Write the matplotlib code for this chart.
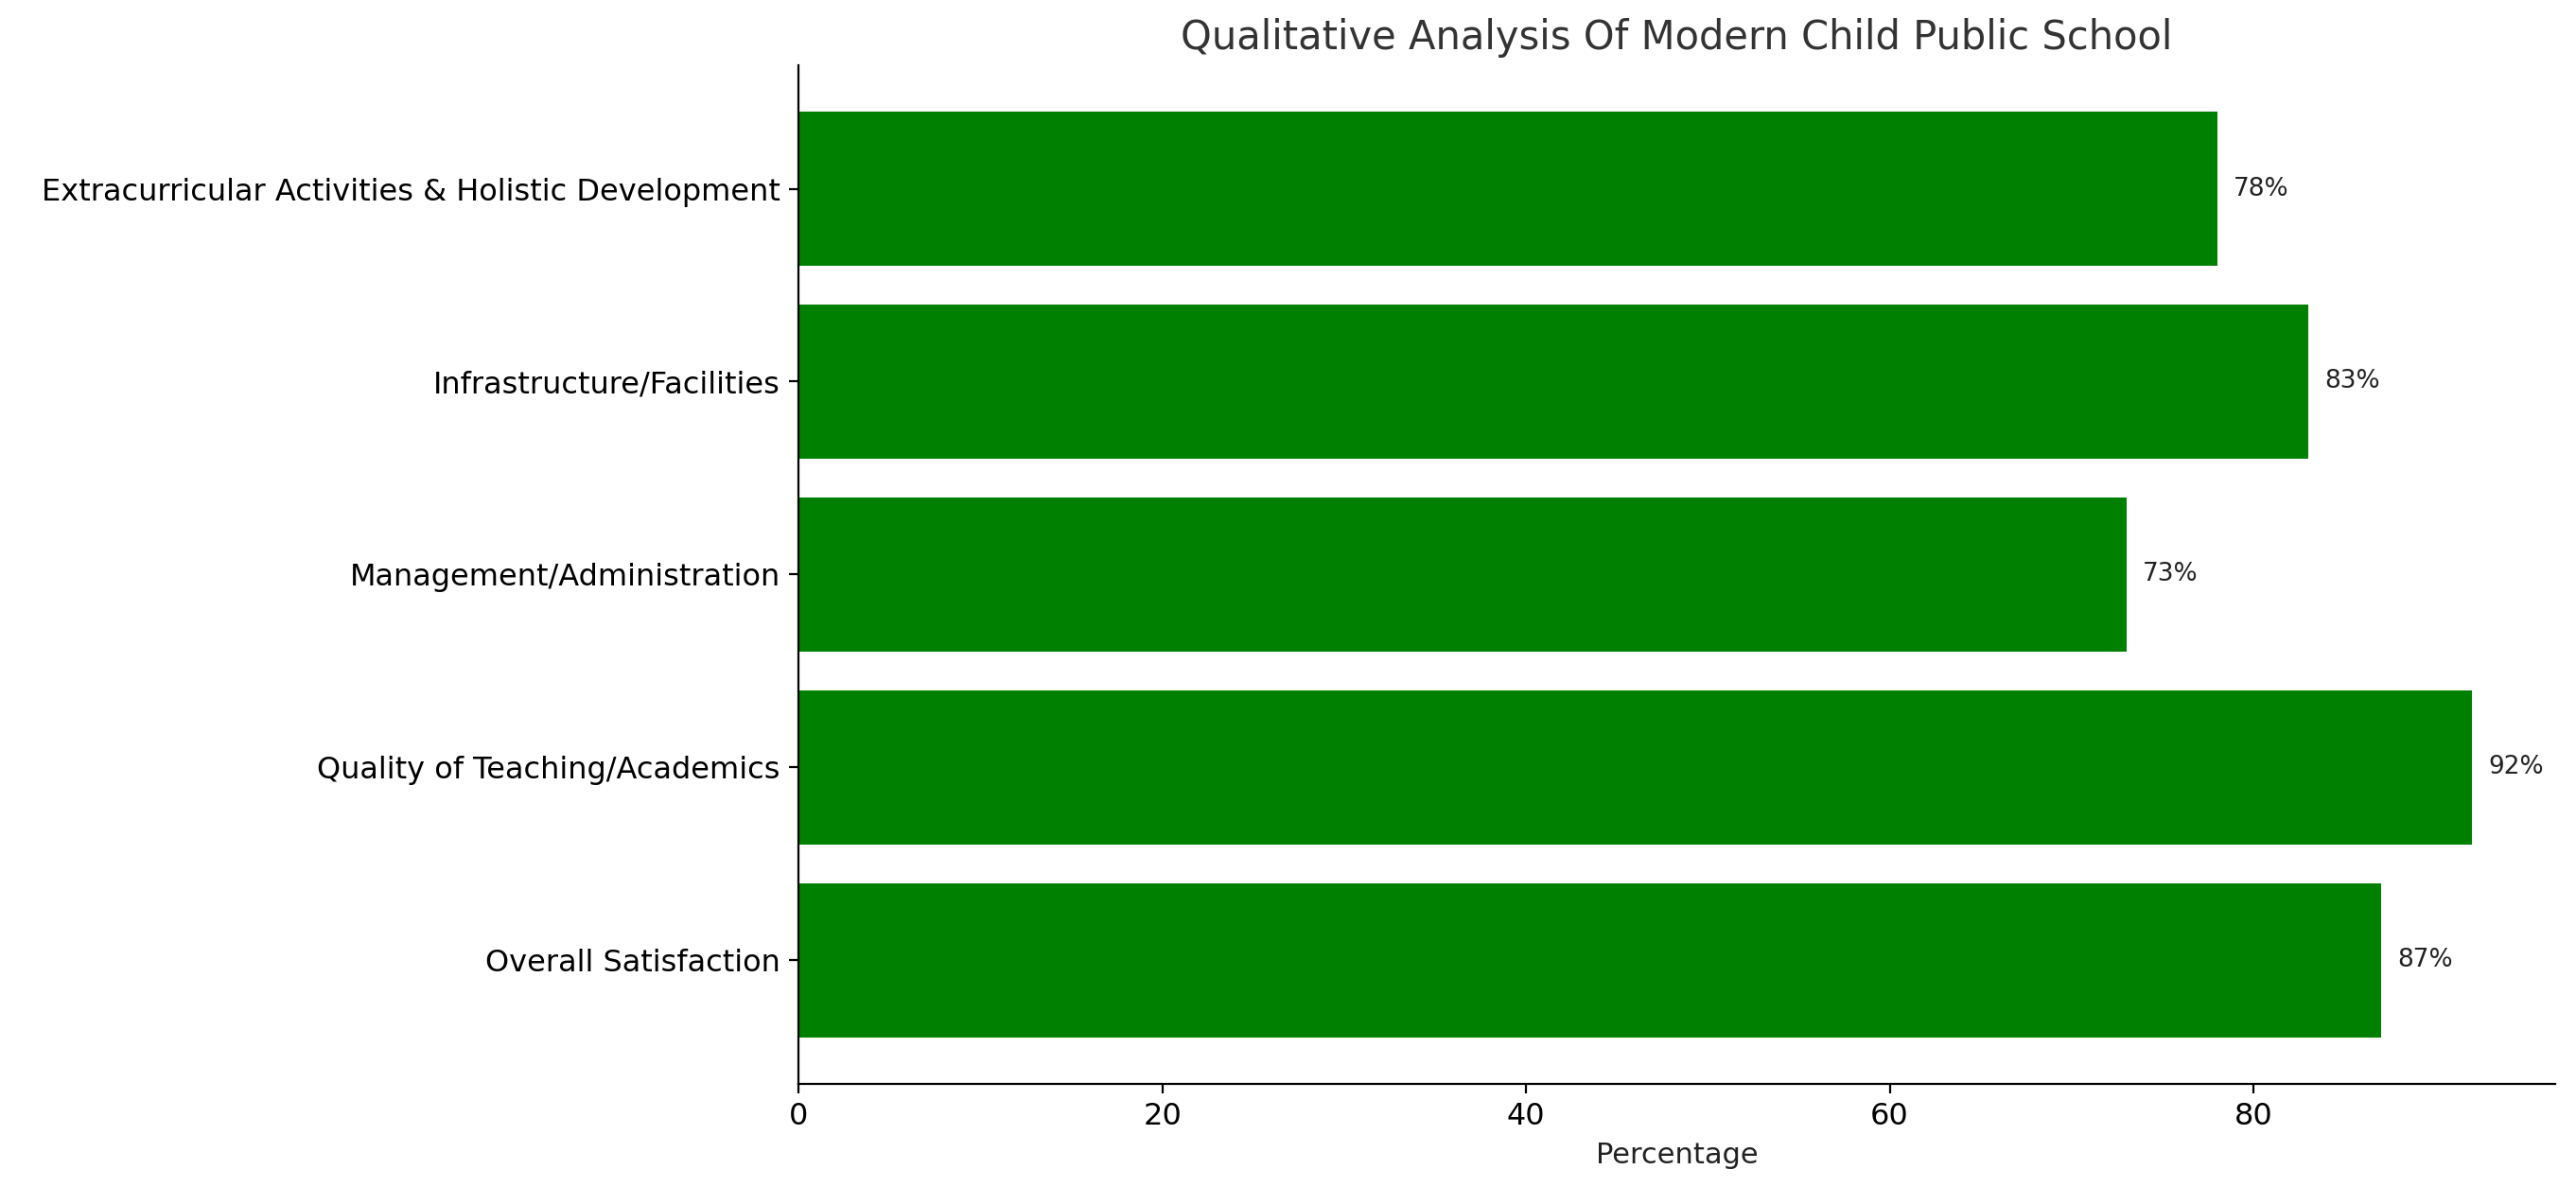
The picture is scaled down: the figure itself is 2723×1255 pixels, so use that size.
import matplotlib.pyplot as plt

categories = ['Overall Satisfaction', 'Quality of Teaching/Academics', 'Management/Administration',
              'Infrastructure/Facilities', 'Extracurricular Activities & Holistic Development']
percentages = [87, 92, 73, 83, 78]

fig = plt.figure(figsize=(13.615, 6.275), dpi=200)
ax = fig.add_axes([0.31, 0.087, 0.682, 0.858])

bars = ax.barh(categories, percentages, color='green', height=0.8)
for b, v in zip(bars, percentages):
    ax.text(b.get_width() + 0.9, b.get_y() + b.get_height() / 2, f'{v}%',
            va='center', ha='left', fontsize=9.5, color='#222222')

ax.set_xlim(0, max(percentages) * 1.05)
ax.set_xlabel('Percentage', fontsize=11, color='#222222')
ax.set_title('Qualitative Analysis Of Modern Child Public School', fontsize=15, color='#333333')
ax.tick_params(axis='x', labelsize=11.5)
ax.tick_params(axis='y', labelsize=11.5)
ax.spines['top'].set_visible(False)
ax.spines['right'].set_visible(False)

fig.savefig('out.png', dpi=200)
